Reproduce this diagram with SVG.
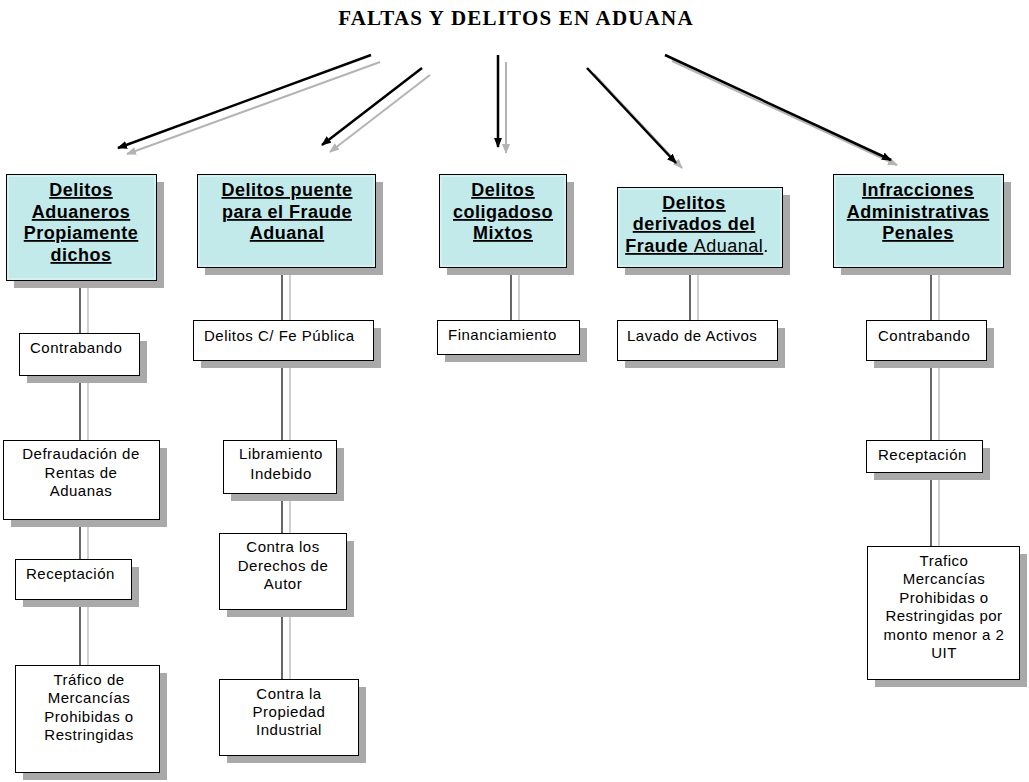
<svg xmlns="http://www.w3.org/2000/svg" width="1029" height="782" viewBox="0 0 1029 782">
<defs>
<marker id="ah" markerWidth="10" markerHeight="8" refX="9" refY="4" orient="auto" markerUnits="userSpaceOnUse"><path d="M0,0 L10,4 L0,8 Z" fill="#000"/></marker>
<marker id="ahs" markerWidth="10" markerHeight="8" refX="9" refY="4" orient="auto" markerUnits="userSpaceOnUse"><path d="M0,0 L10,4 L0,8 Z" fill="#b4b4b4"/></marker>
<style>
.title{font-family:"Liberation Serif",serif;font-weight:bold;font-size:21px;letter-spacing:1.2px;fill:#000}
.arr{stroke:#000;stroke-width:2.5;fill:none;marker-end:url(#ah)}
.arrs{stroke:#b4b4b4;stroke-width:2;fill:none;marker-end:url(#ahs)}
.hd{fill:#c3eaea;stroke:#000;stroke-width:1}
.hdin{fill:none;stroke:#e6f7f7;stroke-width:1}
.sh{fill:#a9a9a9}
.bx{fill:#fff;stroke:#000;stroke-width:1}
.ln{stroke:#000;stroke-width:1.2}
.lns{stroke:#b0b0b0;stroke-width:1.2}
.ht{font-family:"Liberation Sans",Arial,sans-serif;font-weight:bold;font-size:18px;letter-spacing:0.5px;fill:#000;text-anchor:middle;text-decoration:underline}
.t{font-family:"Liberation Sans",Arial,sans-serif;font-size:15px;letter-spacing:0.5px;fill:#000}
.c{text-anchor:middle}
</style>
</defs>
<rect width="1029" height="782" fill="#fff"/>
<text class="title" x="516" y="25" text-anchor="middle">FALTAS Y DELITOS EN ADUANA</text>

<g id="connectors">
<line class="arrs" x1="380" y1="62" x2="127" y2="154"/>
<line class="arrs" x1="430" y1="75" x2="330" y2="152"/>
<line class="arrs" x1="506" y1="62" x2="506" y2="153"/>
<line class="arrs" x1="594" y1="74" x2="682" y2="168"/>
<line class="arrs" x1="672" y1="61" x2="897" y2="165"/>
<line class="arr" x1="371" y1="55" x2="118" y2="148"/>
<line class="arr" x1="422" y1="68" x2="322" y2="145"/>
<line class="arr" x1="498" y1="55" x2="498" y2="147"/>
<line class="arr" x1="587" y1="68" x2="676" y2="163"/>
<line class="arr" x1="665" y1="55" x2="891" y2="160"/>

<line class="lns" x1="88" y1="288" x2="88" y2="665"/>
<line class="ln" x1="80" y1="280" x2="80" y2="665"/>
<line class="lns" x1="290" y1="275" x2="290" y2="679"/>
<line class="ln" x1="282" y1="267" x2="282" y2="679"/>
<line class="lns" x1="519" y1="275" x2="519" y2="320"/>
<line class="ln" x1="511" y1="267" x2="511" y2="320"/>
<line class="lns" x1="698" y1="275" x2="698" y2="320"/>
<line class="ln" x1="690" y1="267" x2="690" y2="320"/>
<line class="lns" x1="939" y1="275" x2="939" y2="546"/>
<line class="ln" x1="931" y1="267" x2="931" y2="546"/>
</g>

<g id="h1">
<rect class="sh" x="14" y="182" width="150" height="106"/>
<rect class="hd" x="6.5" y="174.5" width="150" height="106"/>
<rect class="hdin" x="8" y="176" width="147" height="103"/>
<text class="ht" x="81" y="196">Delitos</text>
<text class="ht" x="81" y="218">Aduaneros</text>
<text class="ht" x="81" y="239">Propiamente</text>
<text class="ht" x="81" y="261">dichos</text>
</g>
<g id="h2">
<rect class="sh" x="205" y="182" width="178" height="93"/>
<rect class="hd" x="197.5" y="174.5" width="178" height="93"/>
<rect class="hdin" x="199" y="176" width="175" height="90"/>
<text class="ht" x="287" y="196">Delitos puente</text>
<text class="ht" x="287" y="218">para el Fraude</text>
<text class="ht" x="287" y="239">Aduanal</text>
</g>
<g id="h3">
<rect class="sh" x="447" y="182" width="127" height="93"/>
<rect class="hd" x="439.5" y="174.5" width="127" height="93"/>
<rect class="hdin" x="441" y="176" width="124" height="90"/>
<text class="ht" x="503" y="196">Delitos</text>
<text class="ht" x="503" y="218">coligadoso</text>
<text class="ht" x="503" y="239">Mixtos</text>
</g>
<g id="h4">
<rect class="sh" x="625" y="195" width="165" height="80"/>
<rect class="hd" x="617.5" y="187.5" width="165" height="80"/>
<rect class="hdin" x="619" y="189" width="162" height="77"/>
<text class="ht" x="694" y="209">Delitos</text>
<text class="ht" x="694" y="230">derivados del</text>
<text class="ht" x="697" y="252" style="text-decoration:none"><tspan style="text-decoration:underline">Fraude <tspan font-weight="normal">Aduanal</tspan></tspan><tspan font-weight="normal">.</tspan></text>
</g>
<g id="h5">
<rect class="sh" x="841" y="182" width="170" height="93"/>
<rect class="hd" x="833.5" y="174.5" width="170" height="93"/>
<rect class="hdin" x="835" y="176" width="167" height="90"/>
<text class="ht" x="918" y="196">Infracciones</text>
<text class="ht" x="918" y="218">Administrativas</text>
<text class="ht" x="918" y="239">Penales</text>
</g>

<g id="c1a">
<rect class="sh" x="27" y="341" width="120" height="42"/>
<rect class="bx" x="19.5" y="333.5" width="120" height="42"/>
<text class="t" x="30" y="353">Contrabando</text>
</g>
<g id="c1b">
<rect class="sh" x="11" y="448" width="156" height="79"/>
<rect class="bx" x="3.5" y="440.5" width="156" height="79"/>
<text class="t c" x="81" y="459">Defraudación de</text>
<text class="t c" x="81" y="478">Rentas de</text>
<text class="t c" x="81" y="496">Aduanas</text>
</g>
<g id="c1c">
<rect class="sh" x="23" y="567" width="116" height="40"/>
<rect class="bx" x="15.5" y="559.5" width="116" height="40"/>
<text class="t" x="26" y="579">Receptación</text>
</g>
<g id="c1d">
<rect class="sh" x="23" y="673" width="144" height="107"/>
<rect class="bx" x="15.5" y="665.5" width="144" height="107"/>
<text class="t c" x="89" y="685">Tráfico de</text>
<text class="t c" x="89" y="703">Mercancías</text>
<text class="t c" x="89" y="722">Prohibidas o</text>
<text class="t c" x="89" y="740">Restringidas</text>
</g>

<g id="c2a">
<rect class="sh" x="201" y="328" width="180" height="40"/>
<rect class="bx" x="193.5" y="320.5" width="180" height="40"/>
<text class="t" x="204" y="341">Delitos C/ Fe Pública</text>
</g>
<g id="c2b">
<rect class="sh" x="231" y="448" width="113" height="53"/>
<rect class="bx" x="223.5" y="440.5" width="113" height="53"/>
<text class="t c" x="281" y="459">Libramiento</text>
<text class="t c" x="281" y="479">Indebido</text>
</g>
<g id="c2c">
<rect class="sh" x="227" y="541" width="127" height="76"/>
<rect class="bx" x="219.5" y="533.5" width="127" height="76"/>
<text class="t c" x="283" y="552">Contra los</text>
<text class="t c" x="283" y="571">Derechos de</text>
<text class="t c" x="283" y="589">Autor</text>
</g>
<g id="c2d">
<rect class="sh" x="227" y="687" width="139" height="76"/>
<rect class="bx" x="219.5" y="679.5" width="139" height="76"/>
<text class="t c" x="289" y="699">Contra la</text>
<text class="t c" x="289" y="717">Propiedad</text>
<text class="t c" x="289" y="735">Industrial</text>
</g>

<g id="c3a">
<rect class="sh" x="445" y="328" width="142" height="34"/>
<rect class="bx" x="437.5" y="320.5" width="142" height="34"/>
<text class="t" x="448" y="340">Financiamiento</text>
</g>
<g id="c4a">
<rect class="sh" x="625" y="328" width="160" height="40"/>
<rect class="bx" x="617.5" y="320.5" width="160" height="40"/>
<text class="t" x="627" y="341">Lavado de Activos</text>
</g>

<g id="c5a">
<rect class="sh" x="874" y="328" width="120" height="40"/>
<rect class="bx" x="866.5" y="320.5" width="120" height="40"/>
<text class="t" x="878" y="341">Contrabando</text>
</g>
<g id="c5b">
<rect class="sh" x="874" y="448" width="116" height="32"/>
<rect class="bx" x="866.5" y="440.5" width="116" height="32"/>
<text class="t" x="878" y="460">Receptación</text>
</g>
<g id="c5c">
<rect class="sh" x="875" y="554" width="152" height="133"/>
<rect class="bx" x="867.5" y="546.5" width="152" height="133"/>
<text class="t c" x="944" y="566">Trafico</text>
<text class="t c" x="944" y="584">Mercancías</text>
<text class="t c" x="944" y="603">Prohibidas o</text>
<text class="t c" x="944" y="621">Restringidas por</text>
<text class="t c" x="944" y="640">monto menor a 2</text>
<text class="t c" x="944" y="658">UIT</text>
</g>
</svg>
